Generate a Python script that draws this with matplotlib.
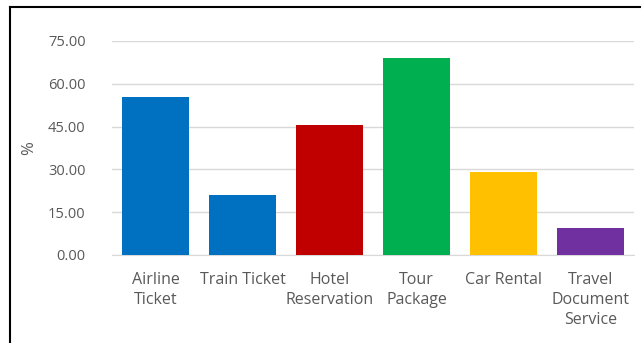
import matplotlib.pyplot as plt
from matplotlib.lines import Line2D

# services and share of respondents (%)
services = ['Airline\nTicket', 'Train Ticket', 'Hotel\nReservation', 'Tour\nPackage',
            'Car Rental', 'Travel\nDocument\nService']
percent = [55.5, 21.0, 45.7, 69.1, 29.0, 9.4]
colors = ['#0070C0', '#0070C0', '#C00000', '#00B050', '#FFC000', '#7030A0']
yticks = [0, 15, 30, 45, 60, 75]

plt.rcParams['font.family'] = ['Open Sans', 'DejaVu Sans']
text_color = '#595959'

fig = plt.figure(figsize=(6.41, 3.43), dpi=100)
ax = fig.add_axes([112 / 641, 1 - 255 / 343, (634 - 112) / 641, (255 - 41) / 343])

x = range(len(services))
ax.bar(x, percent, width=0.77, color=colors, zorder=3)

ax.set_ylim(0, 75)
ax.set_xlim(-0.5, len(services) - 0.5)
ax.set_yticks(yticks)
ax.set_yticklabels([f'{v:.2f}' for v in yticks])
ax.set_xticks(list(x))
ax.set_xticklabels(services, linespacing=1.35)
ax.tick_params(length=0, colors=text_color)
ax.tick_params(axis='y', pad=19, labelsize=10.5)
ax.tick_params(axis='x', pad=12, labelsize=11.5)
ax.grid(axis='y', color='#D9D9D9', linewidth=1, zorder=0)
for s in ['top', 'right', 'left']:
    ax.spines[s].set_visible(False)
ax.spines['bottom'].set_color('#D9D9D9')
ax.set_ylabel('%', color=text_color, fontsize=12, labelpad=8)

# black frame on the top and left edges
fig.add_artist(Line2D([10 / 641, 1], [1 - 7 / 343, 1 - 7 / 343], color='black', linewidth=1.5))
fig.add_artist(Line2D([10 / 641, 10 / 641], [0, 1 - 7 / 343], color='black', linewidth=1.5))

fig.savefig('out.png', dpi=100)
